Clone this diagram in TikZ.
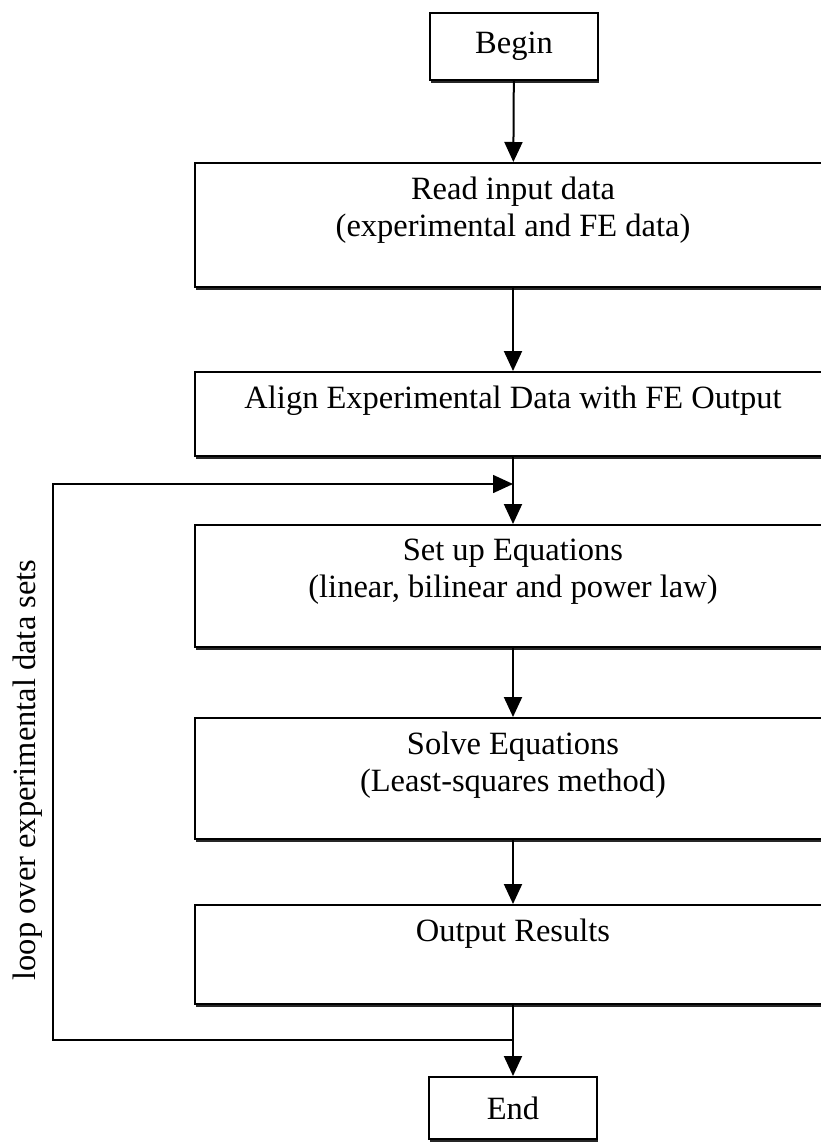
\documentclass[tikz,border=0pt]{standalone}
\usepackage{fontspec}
\setmainfont{Liberation Serif}
\usetikzlibrary{arrows.meta,shadows}

\tikzset{
  flowbox/.style={draw=black, line width=2pt, fill=white, minimum width=636pt,
    drop shadow={shadow xshift=1pt, shadow yshift=-3pt, fill=black!85, opacity=1}},
  termbox/.style={flowbox, minimum width=168pt, font=\fontsize{32.5}{37}\selectfont},
  boxtext/.style={anchor=north, align=center, inner ysep=15pt, font=\fontsize{32.5}{37}\selectfont},
  flowarrow/.style={line width=2pt, -{Triangle[length=20pt,width=18pt]}},
  loopline/.style={line width=1.6pt, -{Triangle[length=20pt,width=18pt]}},
}

\begin{document}
\begin{tikzpicture}[x=1pt, y=-1pt]
\useasboundingbox (0,0) rectangle (820,1143);
% boxes
\node[termbox, minimum height=67pt] (begin) at (514,46.5) {Begin};
\node[flowbox, minimum height=124pt] (read) at (513,225) {};
\node[flowbox, minimum height=84pt] (align) at (513,414) {};
\node[flowbox, minimum height=122pt] (setup) at (513,586) {};
\node[flowbox, minimum height=121pt] (solve) at (513,778.5) {};
\node[flowbox, minimum height=99pt] (output) at (513,954.5) {};
\node[termbox, minimum height=62pt] (end) at (513,1108) {End};
% box texts
\node[boxtext] (readtxt) at (read.north) {Read input data\\(experimental and FE data)};
\node[boxtext] (aligntxt) at (align.north) {Align Experimental Data with FE Output};
\node[boxtext] (setuptxt) at (setup.north) {Set up Equations\\(linear, bilinear and power law)};
\node[boxtext] (solvetxt) at (solve.north) {Solve Equations\\(Least-squares method)};
\node[boxtext] (outputtxt) at (output.north) {Output Results};
% arrows
\path [flowarrow] (begin) edge (read);
\path [flowarrow] (read) edge (align);
\path [flowarrow] (align) edge (setup);
\path [flowarrow] (setup) edge (solve);
\path [flowarrow] (solve) edge (output);
\path [flowarrow] (output) edge (end);
% loop back
\coordinate (loopbot) at (513,1040);
\coordinate (loopleft) at (53,760);
\coordinate (looptop) at (513,484);
\draw [loopline] (loopbot) -| (loopleft) |- (looptop);
\node[rotate=90, font=\fontsize{32.5}{37}\selectfont] (looplabel) at (28,770) {loop over experimental data sets};
\end{tikzpicture}
\end{document}
